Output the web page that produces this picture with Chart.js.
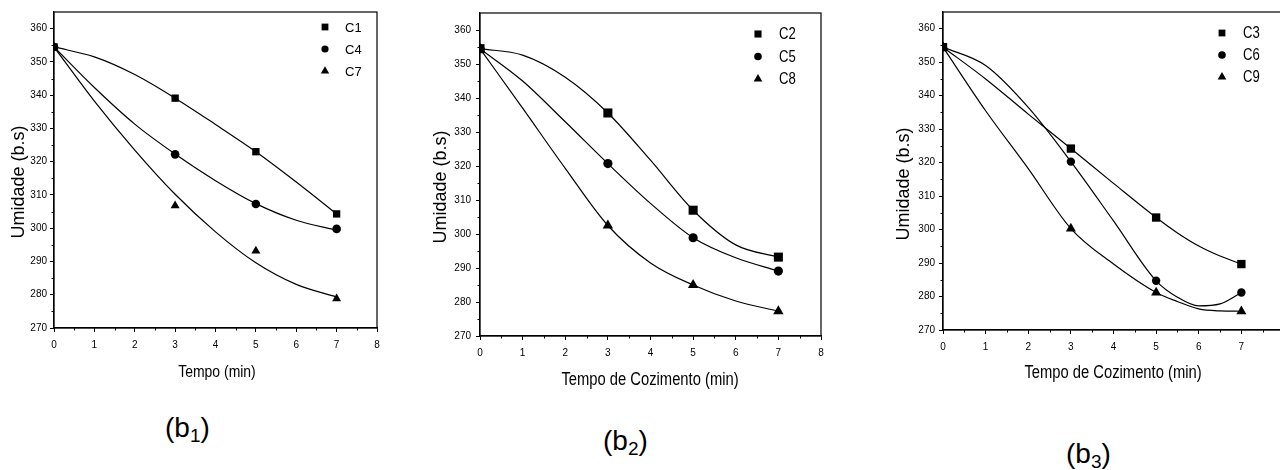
<!DOCTYPE html>
<html>
<head>
<meta charset="utf-8">
<script src="https://cdn.jsdelivr.net/npm/chart.js@4.4.0/dist/chart.umd.min.js"></script>
<style>
  html, body { margin: 0; padding: 0; background: #fff; }
  body { position: relative; width: 1280px; height: 470px; overflow: hidden; }
  canvas { position: absolute; top: 0; }
  .cap { position: absolute; font-family: "Liberation Sans", Arial, sans-serif; font-size: 28px; line-height: 1; color: #000; white-space: nowrap; }
  .cap sub { font-size: 19px; vertical-align: -5px; line-height: 0; }
</style>
</head>
<body>
<canvas id="chartB1" width="400" height="400" style="left:0px"></canvas>
<canvas id="chartB2" width="420" height="400" style="left:420px"></canvas>
<canvas id="chartB3" width="440" height="400" style="left:860px"></canvas>
<div class="cap" style="left:165px;top:414px">(b<sub>1</sub>)</div>
<div class="cap" style="left:603px;top:427px">(b<sub>2</sub>)</div>
<div class="cap" style="left:1066px;top:440px">(b<sub>3</sub>)</div>

<script>
// eixos
const xTicks = [0, 1, 2, 3, 4, 5, 6, 7, 8];
const xMinor = [0.5, 1.5, 2.5, 3.5, 4.5, 5.5, 6.5, 7.5];
const yTicks = [270, 280, 290, 300, 310, 320, 330, 340, 350, 360];
const yMinor = [275, 285, 295, 305, 315, 325, 335, 345, 355];

const tempos = [0, 3, 5, 7];
const curveX = [0, 1, 2, 3, 4, 5, 6, 7];
const curveX3 = [0, 1, 2, 3, 4, 5, 5.5, 6, 6.5, 7];

// (b1)
const c1 = [354.5, 339.1, 323.0, 304.3];
const c4 = [354.5, 322.2, 307.3, 299.8];
const c7 = [354.5, 306.8, 293.2, 278.8];
const c1Fit = [354.5, 351.5, 346.2, 339.1, 331.2, 323.0, 313.9, 304.3];
const c4Fit = [354.5, 342.3, 331.3, 322.3, 314.3, 307.4, 302.4, 299.4];
const c7Fit = [354.5, 338.2, 323.5, 310.2, 298.9, 289.6, 283.1, 279.3];

// (b2)
const c2 = [354.5, 335.6, 307.0, 293.2];
const c5 = [354.5, 320.7, 298.9, 289.1];
const c8 = [354.5, 302.5, 285.0, 277.3];
const c2Fit = [354.5, 352.6, 346.1, 335.6, 321.7, 307.0, 296.8, 293.2];
const c5Fit = [354.5, 345.0, 333.0, 320.7, 309.0, 298.9, 293.0, 289.1];
const c8Fit = [354.5, 337.0, 319.3, 302.5, 291.5, 285.0, 280.3, 277.3];

// (b3)
const c3 = [354.5, 324.2, 303.6, 289.7];
const c6 = [354.5, 320.3, 284.7, 281.2];
const c9 = [354.5, 300.3, 281.2, 275.6];
const c3Fit = [354.5, 345.0, 334.5, 324.2, 313.8, 303.6, 299.0, 295.1, 292.1, 289.7];
const c6Fit = [354.5, 349.0, 336.5, 320.3, 302.6, 284.7, 279.8, 277.2, 277.8, 281.2];
const c9Fit = [354.5, 335.5, 318.2, 300.3, 289.7, 281.2, 278.5, 276.3, 275.7, 275.6];

const REGULAR = '"Liberation Sans", Arial, sans-serif';

function toPoints(xs, ys) {
  return xs.map((x, i) => ({ x: x, y: ys[i] }));
}

function drawMarker(ctx, style, r, x, y) {
  ctx.beginPath();
  if (style === 'rect') {
    const s = r * Math.SQRT1_2;
    ctx.rect(x - s, y - s, 2 * s, 2 * s);
  } else if (style === 'circle') {
    ctx.arc(x, y, r, 0, Math.PI * 2);
  } else {
    ctx.moveTo(x, y - r);
    ctx.lineTo(x + r * Math.sin(2 * Math.PI / 3), y - r * Math.cos(2 * Math.PI / 3));
    ctx.lineTo(x + r * Math.sin(4 * Math.PI / 3), y - r * Math.cos(4 * Math.PI / 3));
    ctx.closePath();
  }
  ctx.fill();
}

// texto estreito (tipo Arial Narrow)
function narrowText(ctx, text, x, y, align, squeeze) {
  ctx.save();
  ctx.translate(x, y);
  ctx.scale(squeeze, 1);
  ctx.textAlign = align;
  ctx.fillText(text, 0, 0);
  ctx.restore();
}

const extras = {
  id: 'extras',
  afterDraw(chart) {
    const o = chart.options.plugins.extras;
    const ctx = chart.ctx;
    const a = chart.chartArea;
    const xs = chart.scales.x;
    const ys = chart.scales.y;
    ctx.save();
    ctx.strokeStyle = '#000';
    ctx.fillStyle = '#000';
    ctx.lineWidth = 1.2;
    ctx.strokeRect(a.left, a.top, a.right - a.left, a.bottom - a.top);

    ctx.lineWidth = 1;
    ctx.beginPath();
    xMinor.forEach(v => {
      const px = Math.round(xs.getPixelForValue(v)) + 0.5;
      ctx.moveTo(px, a.bottom);
      ctx.lineTo(px, a.bottom + 2.5);
    });
    yMinor.forEach(v => {
      const py = Math.round(ys.getPixelForValue(v)) + 0.5;
      ctx.moveTo(a.left, py);
      ctx.lineTo(a.left - 2.5, py);
    });
    ctx.stroke();

    // legenda
    const lg = o.legend;
    ctx.font = lg.font;
    ctx.textBaseline = 'middle';
    lg.items.forEach((it, i) => {
      const y = a.top + lg.dy + i * lg.step;
      const mx = a.right - lg.dx;
      drawMarker(ctx, it.style, it.r, mx, y);
      narrowText(ctx, it.label, mx + lg.gap, y + 1, 'left', lg.squeeze);
    });

    // titulos dos eixos
    ctx.font = o.xTitle.font;
    narrowText(ctx, o.xTitle.text, o.xTitle.x, o.xTitle.y, 'center', 0.82);
    ctx.font = o.yTitle.font;
    ctx.textAlign = 'center';
    ctx.translate(o.yTitle.x, o.yTitle.y);
    ctx.rotate(-Math.PI / 2);
    ctx.fillText(o.yTitle.text, 0, 0);
    ctx.restore();
  }
};

function makePanel(id, p) {
  const datasets = [];
  p.series.forEach(s => {
    datasets.push({
      label: s.label,
      data: toPoints(tempos, s.values),
      showLine: false,
      pointStyle: s.style,
      pointRadius: s.r,
      pointBackgroundColor: '#000',
      pointBorderColor: '#000',
      pointBorderWidth: 0
    });
  });
  p.series.forEach(s => {
    datasets.push({
      label: s.label + ' ajuste',
      data: toPoints(p.curveX, s.fit),
      showLine: true,
      pointRadius: 0,
      borderColor: '#000',
      borderWidth: 1.2,
      cubicInterpolationMode: 'monotone'
    });
  });

  const tickFont = { size: 10, family: REGULAR };

  return new Chart(document.getElementById(id), {
    type: 'scatter',
    data: { datasets: datasets },
    options: {
      responsive: false,
      animation: false,
      events: [],
      layout: { padding: { left: 0, top: p.top, right: p.right, bottom: 0 } },
      plugins: {
        legend: { display: false },
        tooltip: { enabled: false },
        extras: {
          legend: p.legend,
          xTitle: p.xTitle,
          yTitle: p.yTitle
        }
      },
      scales: {
        x: {
          type: 'linear',
          min: 0,
          max: 8,
          afterBuildTicks: s => { s.ticks = xTicks.map(v => ({ value: v })); },
          afterFit: s => { s.height = p.xHeight; },
          ticks: { autoSkip: false, maxRotation: 0, padding: p.xPad, color: '#000', font: tickFont },
          grid: { drawOnChartArea: false, tickLength: 4, color: '#000', lineWidth: 1 },
          border: { color: '#000', width: 1.2 }
        },
        y: {
          type: 'linear',
          min: 270,
          max: 365,
          afterBuildTicks: s => { s.ticks = yTicks.map(v => ({ value: v })); },
          afterFit: s => { s.width = p.yWidth; },
          ticks: { padding: p.yPad, color: '#000', font: tickFont },
          grid: { drawOnChartArea: false, tickLength: 4, color: '#000', lineWidth: 1 },
          border: { color: '#000', width: 1.2 }
        }
      }
    },
    plugins: [extras]
  });
}

makePanel('chartB1', {
  top: 12, right: 23, xHeight: 72, yWidth: 54, xPad: 7, yPad: 3,
  curveX: curveX,
  series: [
    { label: 'C1', values: c1, fit: c1Fit, style: 'rect', r: 5.2 },
    { label: 'C4', values: c4, fit: c4Fit, style: 'circle', r: 4.3 },
    { label: 'C7', values: c7, fit: c7Fit, style: 'triangle', r: 5.2 }
  ],
  legend: {
    dx: 52, dy: 15, step: 22, gap: 20, font: '13px ' + REGULAR, squeeze: 1,
    items: [
      { label: 'C1', style: 'rect', r: 4.8 },
      { label: 'C4', style: 'circle', r: 3.6 },
      { label: 'C7', style: 'triangle', r: 4.8 }
    ]
  },
  xTitle: { text: 'Tempo (min)', x: 217, y: 372, font: '17px ' + REGULAR },
  yTitle: { text: 'Umidade (b.s)', x: 19, y: 182, font: '18px ' + REGULAR }
});

makePanel('chartB2', {
  top: 13, right: 19, xHeight: 64, yWidth: 60, xPad: 7, yPad: 5,
  curveX: curveX,
  series: [
    { label: 'C2', values: c2, fit: c2Fit, style: 'rect', r: 6.4 },
    { label: 'C5', values: c5, fit: c5Fit, style: 'circle', r: 4.6 },
    { label: 'C8', values: c8, fit: c8Fit, style: 'triangle', r: 6 }
  ],
  legend: {
    dx: 63, dy: 21, step: 22.5, gap: 21, font: '16px ' + REGULAR, squeeze: 0.82,
    items: [
      { label: 'C2', style: 'rect', r: 5 },
      { label: 'C5', style: 'circle', r: 3.8 },
      { label: 'C8', style: 'triangle', r: 5 }
    ]
  },
  xTitle: { text: 'Tempo de Cozimento (min)', x: 230, y: 380, font: '18px ' + REGULAR },
  yTitle: { text: 'Umidade (b.s)', x: 21, y: 187, font: '18px ' + REGULAR }
});

makePanel('chartB3', {
  top: 12, right: 16, xHeight: 70, yWidth: 83, xPad: 7, yPad: 4,
  curveX: curveX3,
  series: [
    { label: 'C3', values: c3, fit: c3Fit, style: 'rect', r: 5.9 },
    { label: 'C6', values: c6, fit: c6Fit, style: 'circle', r: 4.2 },
    { label: 'C9', values: c9, fit: c9Fit, style: 'triangle', r: 5.8 }
  ],
  legend: {
    dx: 62, dy: 21, step: 22, gap: 21, font: '16px ' + REGULAR, squeeze: 0.82,
    items: [
      { label: 'C3', style: 'rect', r: 4.8 },
      { label: 'C6', style: 'circle', r: 3.8 },
      { label: 'C9', style: 'triangle', r: 5 }
    ]
  },
  xTitle: { text: 'Tempo de Cozimento (min)', x: 253, y: 373, font: '18px ' + REGULAR },
  yTitle: { text: 'Umidade (b.s)', x: 44, y: 184, font: '18px ' + REGULAR }
});
</script>
</body>
</html>
